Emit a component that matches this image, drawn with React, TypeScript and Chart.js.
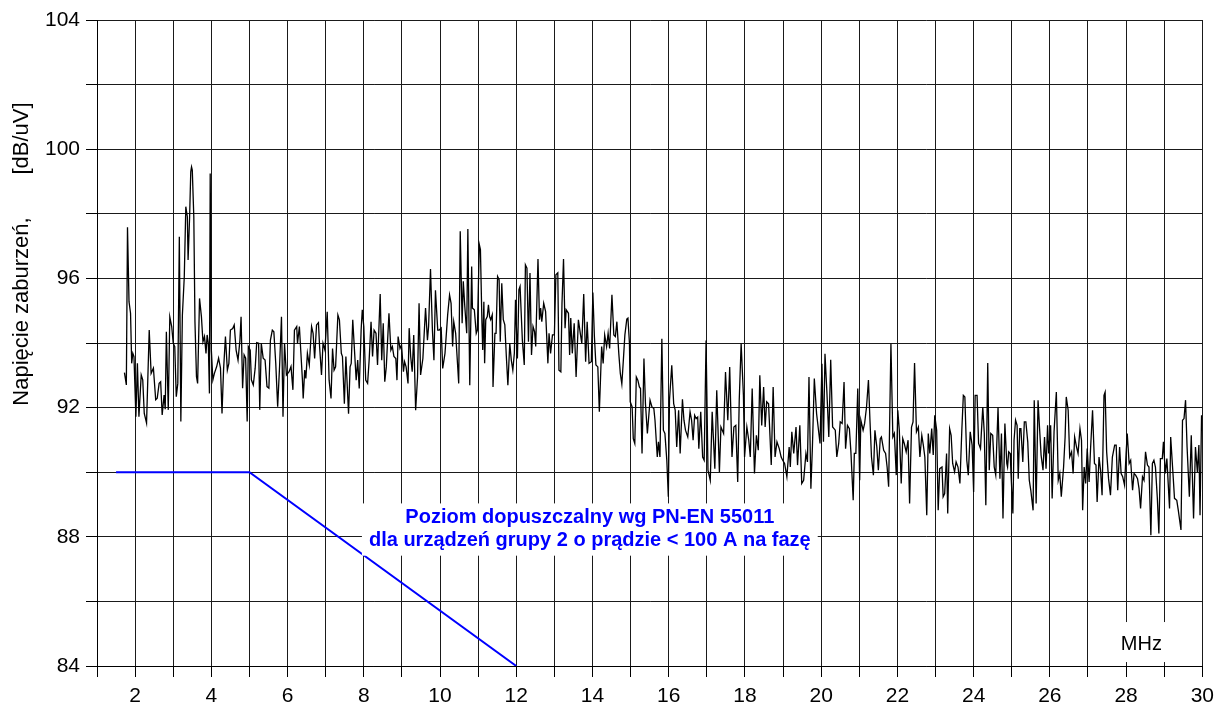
import { useEffect, useRef } from "react";
import { Chart, registerables } from "chart.js";

Chart.register(...registerables);

const FONT = '"Liberation Sans", Arial, Helvetica, sans-serif';

// Measured disturbance voltage [MHz, dB/uV], split by frequency band
const spectrum2to6: [number, number][] = [
  [1.72, 93.08], [1.77, 92.7], [1.8, 97.58], [1.84, 95.28], [1.88, 94.92], [1.91, 93.37], [1.94, 93.68], [1.97, 93.58],
  [2.02, 91.72], [2.06, 93.37], [2.1, 91.72], [2.16, 93.01], [2.2, 92.86], [2.24, 91.82], [2.3, 91.52], [2.37, 94.4],
  [2.42, 93.06], [2.48, 93.22], [2.54, 92.24], [2.58, 92.29], [2.63, 92.75], [2.67, 92.8], [2.71, 91.77], [2.76, 92.39],
  [2.79, 91.95], [2.82, 94.35], [2.87, 91.93], [2.91, 94.81], [2.96, 94.51], [3.0, 93.99], [3.04, 93.89], [3.08, 92.34],
  [3.12, 92.75], [3.16, 97.29], [3.2, 91.57], [3.24, 94.87], [3.29, 96.05], [3.33, 98.22], [3.37, 97.91], [3.39, 96.57],
  [3.43, 97.91], [3.46, 99.3], [3.48, 99.45], [3.5, 99.35], [3.54, 97.91], [3.57, 94.66], [3.61, 92.96], [3.64, 92.75], [3.69, 95.38],
  [3.74, 94.81], [3.78, 94.04], [3.82, 94.2], [3.86, 93.68], [3.89, 94.25], [3.92, 93.99], [3.95, 92.44], [3.97, 99.25],
  [4.0, 93.78], [4.04, 92.86], [4.08, 93.06], [4.14, 93.27], [4.19, 93.53], [4.24, 93.22], [4.28, 91.82], [4.32, 93.16],
  [4.37, 94.2], [4.42, 93.16], [4.46, 93.37], [4.5, 94.4], [4.56, 94.45], [4.6, 94.56], [4.65, 93.78], [4.7, 93.47],
  [4.75, 94.09], [4.78, 94.81], [4.82, 92.6], [4.86, 93.63], [4.9, 93.53], [4.94, 91.57], [4.97, 93.89], [5.02, 93.78],
  [5.05, 92.86], [5.1, 92.7], [5.15, 93.22], [5.19, 94.01], [5.24, 93.99], [5.27, 91.93], [5.31, 93.99], [5.36, 93.53],
  [5.41, 93.47], [5.46, 92.65], [5.51, 92.6], [5.55, 94.09], [5.6, 94.4], [5.64, 94.35], [5.69, 93.37], [5.74, 92.03],
  [5.79, 93.27], [5.84, 94.81], [5.88, 91.72], [5.92, 93.99], [5.97, 93.01], [6.04, 93.11], [6.09, 93.27], [6.14, 92.55],
  [6.18, 94.4], [6.24, 94.51],
];

const spectrum6to11: [number, number][] = [
  [6.26, 93.99], [6.31, 94.51], [6.35, 93.68], [6.39, 92.85], [6.41, 92.28], [6.45, 93.16], [6.48, 92.9], [6.52, 93.68],
  [6.57, 93.32], [6.63, 94.51], [6.67, 94.3], [6.71, 93.52], [6.76, 94.56], [6.81, 94.63], [6.84, 93.89], [6.89, 93.01],
  [6.93, 93.99], [6.98, 93.78], [7.04, 94.97], [7.09, 92.85], [7.14, 92.28], [7.18, 93.83], [7.22, 93.16], [7.26, 93.26],
  [7.32, 94.87], [7.36, 94.72], [7.41, 93.68], [7.44, 93.58], [7.49, 92.12], [7.53, 93.58], [7.6, 91.81], [7.64, 93.26],
  [7.67, 93.37], [7.71, 94.72], [7.75, 93.89], [7.8, 92.85], [7.84, 93.47], [7.88, 92.59], [7.93, 94.4], [7.96, 95.03],
  [8.0, 94.51], [8.05, 92.85], [8.1, 92.75], [8.14, 93.47], [8.19, 94.66], [8.23, 93.58], [8.27, 94.4], [8.32, 94.3],
  [8.36, 93.32], [8.43, 95.52], [8.47, 93.47], [8.51, 94.61], [8.55, 92.8], [8.59, 93.26], [8.66, 94.92], [8.71, 93.78],
  [8.75, 93.89], [8.79, 93.58], [8.84, 93.52], [8.87, 92.85], [8.9, 94.2], [8.95, 93.83], [8.99, 93.94], [9.04, 93.11],
  [9.07, 93.42], [9.11, 93.26], [9.16, 92.75], [9.19, 94.46], [9.23, 93.58], [9.27, 93.11], [9.31, 94.25], [9.36, 91.92],
  [9.41, 92.95], [9.45, 95.23], [9.49, 93.01], [9.55, 93.52], [9.62, 95.08], [9.67, 94.09], [9.7, 94.51], [9.75, 96.29],
  [9.8, 94.4], [9.84, 93.47], [9.88, 95.63], [9.94, 94.4], [9.98, 94.4], [10.03, 94.46], [10.07, 93.21], [10.13, 93.68],
  [10.2, 94.87], [10.25, 95.49], [10.29, 95.23], [10.33, 93.89], [10.36, 94.66], [10.41, 94.3], [10.49, 92.75], [10.53, 97.46],
  [10.58, 94.61], [10.61, 95.91], [10.65, 95.13], [10.7, 94.3], [10.73, 97.53], [10.78, 92.69], [10.83, 96.37], [10.85, 95.08],
  [10.9, 95.03], [10.95, 94.3], [10.98, 94.4],
];

const spectrum11to15: [number, number][] = [
  [11.03, 97.05], [11.06, 96.89], [11.1, 94.61], [11.12, 93.78], [11.15, 95.28], [11.17, 93.37], [11.2, 94.72], [11.24, 94.82],
  [11.27, 95.18], [11.3, 94.82], [11.33, 94.72], [11.37, 94.87], [11.39, 92.64], [11.44, 94.3], [11.47, 94.3], [11.51, 96.06],
  [11.55, 95.96], [11.58, 94.04], [11.62, 95.85], [11.66, 94.72], [11.7, 94.56], [11.74, 93.58], [11.78, 92.69], [11.83, 93.99],
  [11.87, 93.47], [11.91, 93.16], [11.95, 93.68], [11.98, 95.34], [12.03, 93.52], [12.07, 95.65], [12.1, 95.75], [12.16, 94.09],
  [12.21, 93.32], [12.24, 96.42], [12.28, 96.32], [12.32, 94.04], [12.36, 96.17], [12.4, 93.63], [12.44, 94.51], [12.48, 94.35],
  [12.51, 93.89], [12.57, 96.6], [12.61, 94.72], [12.64, 95.08], [12.67, 94.66], [12.72, 95.23], [12.77, 94.97], [12.83, 93.37],
  [12.86, 94.3], [12.9, 93.68], [12.95, 94.25], [13.0, 94.25], [13.04, 96.11], [13.09, 96.17], [13.12, 93.16], [13.17, 93.11],
  [13.2, 95.23], [13.24, 96.6], [13.28, 94.46], [13.31, 95.03], [13.37, 94.92], [13.4, 93.63], [13.43, 94.77], [13.47, 93.68],
  [13.52, 94.61], [13.57, 92.95], [13.63, 94.72], [13.68, 94.3], [13.72, 93.99], [13.77, 95.52], [13.82, 93.42], [13.86, 94.66],
  [13.91, 93.37], [13.97, 93.42], [14.01, 95.56], [14.05, 94.2], [14.09, 93.32], [14.14, 93.26], [14.18, 91.87], [14.24, 93.89],
  [14.28, 93.37], [14.32, 94.25], [14.37, 93.89], [14.41, 94.3], [14.45, 93.83], [14.51, 95.49], [14.56, 94.25], [14.6, 94.2],
  [14.64, 94.66], [14.69, 93.68], [14.73, 93.06], [14.77, 92.73], [14.81, 93.47], [14.85, 94.25], [14.9, 94.74], [14.93, 94.77],
  [14.97, 93.99], [14.99, 92.18], [15.04, 92.02],
];

const spectrum15to20: [number, number][] = [
  [15.07, 91.04], [15.11, 90.89], [15.15, 92.95], [15.19, 92.85], [15.23, 92.64], [15.26, 92.59], [15.3, 90.58], [15.35, 93.52],
  [15.39, 92.12], [15.44, 91.2], [15.51, 92.23], [15.56, 92.02], [15.61, 91.97], [15.64, 91.61], [15.7, 90.47], [15.73, 90.94],
  [15.77, 90.47], [15.82, 94.13], [15.86, 91.3], [15.9, 91.2], [15.95, 90.37], [15.99, 89.24], [16.02, 92.23], [16.08, 93.31],
  [16.13, 92.12], [16.17, 91.92], [16.21, 90.78], [16.26, 91.92], [16.3, 90.58], [16.36, 92.26], [16.4, 91.61], [16.44, 91.3],
  [16.5, 91.09], [16.56, 91.87], [16.6, 91.61], [16.64, 90.99], [16.68, 91.76], [16.72, 91.66], [16.76, 91.71], [16.79, 90.73],
  [16.84, 91.87], [16.89, 90.47], [16.93, 90.37], [16.98, 94.08], [17.03, 90.06], [17.09, 89.75], [17.14, 91.87], [17.21, 90.11],
  [17.26, 92.54], [17.33, 90.01], [17.37, 91.4], [17.44, 91.2], [17.49, 93.1], [17.55, 91.61], [17.6, 93.26], [17.66, 90.47],
  [17.71, 91.4], [17.76, 91.45], [17.81, 89.7], [17.85, 92.23], [17.9, 93.98], [17.96, 92.38], [17.99, 90.47], [18.05, 91.4],
  [18.1, 90.99], [18.14, 90.47], [18.19, 92.59], [18.25, 89.96], [18.3, 91.14], [18.35, 90.68], [18.39, 93.0], [18.44, 91.45],
  [18.49, 92.64], [18.53, 91.4], [18.57, 92.18], [18.62, 92.12], [18.69, 90.22], [18.74, 92.64], [18.79, 90.47], [18.84, 90.94],
  [18.9, 90.73], [18.95, 90.47], [18.99, 90.37], [19.04, 90.27], [19.1, 89.86], [19.16, 90.78], [19.19, 90.16], [19.23, 91.25],
  [19.28, 90.58], [19.34, 91.4], [19.38, 90.22], [19.44, 91.45], [19.49, 89.65], [19.54, 89.75], [19.6, 90.58], [19.64, 90.32],
  [19.68, 92.95], [19.73, 89.49], [19.77, 90.78], [19.82, 92.9], [19.88, 91.81],
];

const spectrum20to25: [number, number][] = [
  [19.97, 90.89], [20.02, 93.36], [20.06, 90.94], [20.1, 93.67], [20.15, 92.48], [20.2, 91.09], [20.25, 93.48], [20.3, 91.4],
  [20.37, 91.3], [20.41, 90.47], [20.46, 90.89], [20.5, 91.56], [20.55, 91.51], [20.6, 92.79], [20.64, 90.73], [20.69, 91.45],
  [20.74, 91.35], [20.78, 90.63], [20.84, 89.13], [20.87, 90.58], [20.91, 90.58], [20.96, 92.59], [21.01, 89.75], [21.04, 91.61],
  [21.1, 91.3], [21.14, 91.51], [21.19, 92.02], [21.24, 92.85], [21.28, 91.61], [21.32, 90.47], [21.37, 89.91], [21.41, 91.3],
  [21.46, 90.78], [21.5, 90.06], [21.55, 91.04], [21.58, 91.09], [21.64, 90.68], [21.69, 90.58], [21.73, 90.16], [21.77, 89.55],
  [21.83, 93.98], [21.88, 91.09], [21.92, 91.2], [21.97, 89.91], [22.01, 91.92], [22.05, 91.3], [22.1, 89.65], [22.14, 91.04],
  [22.18, 90.89], [22.23, 90.63], [22.28, 90.99], [22.32, 89.03], [22.37, 91.4], [22.41, 91.56], [22.45, 93.38], [22.5, 91.25],
  [22.55, 91.4], [22.59, 90.47], [22.64, 91.14], [22.68, 90.84], [22.72, 90.47], [22.77, 88.67], [22.81, 91.2], [22.85, 90.58],
  [22.9, 91.35], [22.94, 90.53], [22.98, 91.76], [23.03, 91.3], [23.07, 88.82], [23.11, 90.11], [23.17, 90.16], [23.2, 89.24],
  [23.24, 89.34], [23.29, 90.58], [23.32, 88.72], [23.37, 91.35], [23.41, 91.14], [23.45, 90.27], [23.5, 90.01], [23.54, 90.32],
  [23.59, 90.16], [23.64, 89.65], [23.69, 91.3], [23.73, 92.38], [23.77, 92.33], [23.82, 90.37], [23.86, 89.91], [23.91, 91.25],
  [23.96, 90.84], [24.0, 89.39], [24.04, 92.38], [24.09, 92.38], [24.13, 90.89], [24.18, 90.73], [24.24, 92.02], [24.28, 91.2],
  [24.32, 88.98], [24.37, 93.38], [24.41, 90.06], [24.45, 91.2], [24.5, 91.14], [24.54, 90.16], [24.58, 89.91], [24.64, 92.0],
  [24.69, 89.8], [24.73, 91.2], [24.77, 88.57], [24.82, 91.51], [24.87, 90.27],
];

const spectrum25to30: [number, number][] = [
  [24.89, 90.16], [24.92, 90.63], [24.96, 90.58], [24.98, 89.96], [25.03, 88.72], [25.06, 90.99], [25.1, 91.61], [25.14, 91.45],
  [25.17, 89.8], [25.21, 91.35], [25.24, 91.35], [25.29, 90.32], [25.33, 91.56], [25.37, 91.56], [25.42, 90.94], [25.46, 89.75],
  [25.5, 89.44], [25.56, 88.82], [25.59, 92.23], [25.64, 89.03], [25.69, 92.23], [25.73, 91.35], [25.77, 90.53], [25.82, 90.06],
  [25.86, 91.09], [25.9, 90.11], [25.94, 91.45], [25.97, 90.58], [26.02, 91.45], [26.06, 89.19], [26.11, 91.25], [26.17, 92.48],
  [26.22, 89.75], [26.26, 89.96], [26.3, 89.24], [26.36, 90.16], [26.4, 91.09], [26.43, 92.33], [26.48, 91.92], [26.52, 90.47],
  [26.57, 90.63], [26.61, 89.96], [26.65, 91.09], [26.7, 90.78], [26.74, 90.58], [26.79, 91.35], [26.83, 90.99], [26.86, 88.82],
  [26.9, 90.16], [26.94, 89.65], [26.98, 90.73], [27.03, 89.7], [27.07, 90.78], [27.12, 91.92], [27.17, 90.27], [27.21, 90.22],
  [27.24, 89.08], [27.29, 90.47], [27.33, 90.06], [27.37, 89.29], [27.42, 92.38], [27.45, 92.48], [27.49, 90.63], [27.54, 89.8],
  [27.59, 89.29], [27.64, 90.47], [27.7, 90.84], [27.74, 90.84], [27.78, 89.44], [27.83, 90.78], [27.87, 89.96], [27.91, 89.86],
  [27.96, 89.6], [28.0, 90.58], [28.03, 91.2], [28.08, 90.27], [28.12, 90.37], [28.17, 89.44], [28.21, 89.96], [28.25, 89.91],
  [28.3, 89.8], [28.34, 89.49], [28.38, 88.88], [28.43, 89.86], [28.47, 89.75], [28.51, 90.63], [28.56, 90.22], [28.6, 90.16],
  [28.65, 88.05], [28.69, 90.27], [28.73, 90.37], [28.77, 90.16], [28.82, 89.19], [28.86, 88.1], [28.9, 90.42], [28.95, 90.42],
  [28.98, 90.94], [29.03, 89.96], [29.07, 90.42], [29.14, 88.88], [29.17, 91.09], [29.23, 89.96], [29.27, 89.19], [29.33, 89.13],
  [29.37, 88.82], [29.44, 88.21], [29.48, 91.61], [29.52, 91.66], [29.56, 92.23], [29.6, 90.78], [29.66, 89.24], [29.71, 91.14],
  [29.77, 88.57], [29.82, 90.78], [29.87, 90.01], [29.91, 90.84], [29.94, 88.67], [29.98, 91.76],
];

// Permissible level (PN-EN 55011, group 2, < 100 A per phase)
const limitFreq = [1.5, 5, 12];
const limitLevel = [90, 90, 84];

const yTitle = "Napięcie zaburzeń,       [dB/uV]";
const xUnit = "MHz";
const limitText = ["Poziom dopuszczalny wg PN-EN 55011", "dla urządzeń grupy 2 o prądzie < 100 A na fazę"];

const spectrum = [
  ...spectrum2to6,
  ...spectrum6to11,
  ...spectrum11to15,
  ...spectrum15to20,
  ...spectrum20to25,
  ...spectrum25to30,
];

const overlayPlugin = {
  id: "overlayText",
  afterDatasetsDraw(chart: any) {
    const { ctx, scales } = chart;
    const xs = scales.x;
    const ys = scales.y;
    ctx.save();

    // unit label in the lower-right corner, on a white patch
    const mx = xs.getPixelForValue(28.4);
    const my = ys.getPixelForValue(84.68);
    ctx.fillStyle = "#fff";
    ctx.fillRect(mx - 31, my - 22, 62, 40);
    ctx.fillStyle = "#000";
    ctx.font = `20px ${FONT}`;
    ctx.textAlign = "center";
    ctx.textBaseline = "middle";
    ctx.fillText(xUnit, mx, my);

    // limit description
    const cx = xs.getPixelForValue(13.93);
    const l1 = ys.getPixelForValue(88.6);
    const l2 = ys.getPixelForValue(87.88);
    ctx.font = `bold 20px ${FONT}`;
    const w = Math.max(...limitText.map((t) => ctx.measureText(t).width)) + 14;
    ctx.fillStyle = "#fff";
    ctx.fillRect(cx - w / 2, l1 - 14, w, l2 - l1 + 29);
    ctx.fillStyle = "#0000ff";
    ctx.fillText(limitText[0], cx, l1);
    ctx.fillText(limitText[1], cx, l2);
    ctx.restore();
  },
  afterDraw(chart: any) {
    const { ctx } = chart;
    ctx.save();
    ctx.translate(22, 254);
    ctx.rotate(-Math.PI / 2);
    ctx.fillStyle = "#000";
    ctx.font = `22px ${FONT}`;
    ctx.textAlign = "center";
    ctx.textBaseline = "middle";
    ctx.fillText(yTitle, 0, 0);
    ctx.restore();
  },
};

export default function App() {
  const canvasRef = useRef<HTMLCanvasElement>(null);

  useEffect(() => {
    if (!canvasRef.current) return;
    const tickFont = { family: FONT, size: 21 };
    const chart = new Chart(canvasRef.current, {
      type: "line",
      data: {
        datasets: [
          {
            label: "Napięcie zaburzeń",
            data: spectrum.map(([x, y]) => ({ x, y })),
            borderColor: "#000",
            borderWidth: 1.3,
            pointRadius: 0,
            tension: 0,
          },
          {
            label: "Poziom dopuszczalny",
            data: limitFreq.map((x, i) => ({ x, y: limitLevel[i] })),
            borderColor: "#0000ff",
            borderWidth: 2,
            pointRadius: 0,
            tension: 0,
          },
        ],
      },
      options: {
        responsive: false,
        animation: false,
        devicePixelRatio: 1,
        layout: { padding: { top: 20, right: 16, left: 0, bottom: 0 } },
        plugins: { legend: { display: false }, tooltip: { enabled: false } },
        scales: {
          x: {
            type: "linear",
            min: 1,
            max: 30,
            afterFit: (s: any) => {
              s.height = 40;
            },
            ticks: {
              stepSize: 1,
              autoSkip: false,
              maxRotation: 0,
              padding: 7,
              color: "#000",
              font: tickFont,
              callback: (v: any) => (Number(v) % 2 === 0 ? String(v) : ""),
            },
            grid: { color: "#1a1a1a", lineWidth: 1, tickLength: 11, tickColor: "#000" },
            border: { color: "#000", width: 1 },
          },
          y: {
            type: "linear",
            min: 84,
            max: 104,
            afterFit: (s: any) => {
              s.width = 97;
            },
            ticks: {
              stepSize: 2,
              padding: 6,
              color: "#000",
              font: tickFont,
              callback: (v: any) => (Number(v) % 4 === 0 ? String(v) : ""),
            },
            grid: { color: "#1a1a1a", lineWidth: 1, tickLength: 11, tickColor: "#000" },
            border: { color: "#000", width: 1 },
          },
        },
      },
      plugins: [overlayPlugin],
    });
    return () => chart.destroy();
  }, []);

  return (
    <div style={{ position: "fixed", left: 0, top: 0, width: 1221, height: 706, background: "#fff" }}>
      <canvas ref={canvasRef} width={1221} height={706} style={{ display: "block" }} />
    </div>
  );
}
